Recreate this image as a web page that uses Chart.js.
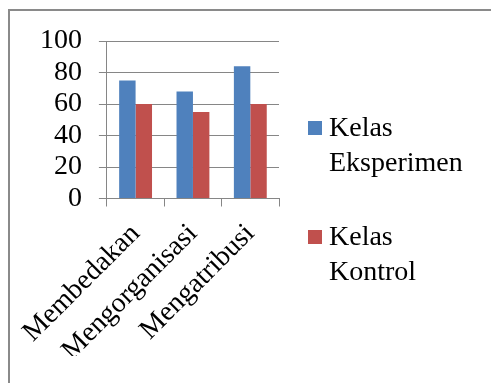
<!DOCTYPE html>
<html>
<head>
<meta charset="utf-8">
<script src="https://cdn.jsdelivr.net/npm/chart.js@4/dist/chart.umd.min.js"></script>
<style>
  html, body { margin: 0; padding: 0; background: #fff; overflow: hidden; }
  #wrap { position: relative; width: 491px; height: 383px; }
  #frame { position: absolute; left: 8px; top: 9px; width: 600px; height: 500px;
           border-top: 2px solid #8a8a8a; border-left: 2px solid #8a8a8a; }
  canvas { position: absolute; left: 0; top: 0; }
</style>
</head>
<body>
<div id="wrap">
  <div id="frame"></div>
  <canvas id="chart" width="491" height="383"></canvas>
</div>
<script>
// Skills measured
const categories = ['Membedakan', 'Mengorganisasi', 'Mengatribusi'];
// Mean scores per class
const kelasEksperimen = [75, 68, 84];
const kelasKontrol = [60, 55, 60];
// Y axis ticks
const yTicks = [0, 20, 40, 60, 80, 100];

const seriesNames = [['Kelas', 'Eksperimen'], ['Kelas', 'Kontrol']];
const FONT = '"Liberation Serif", "Times New Roman", serif';

// Legend with wrapped, multi-line labels placed right of the plot
const sideLegend = {
  id: 'sideLegend',
  afterDraw(chart) {
    const ctx = chart.ctx;
    const area = chart.chartArea;
    const x0 = area.right + 29;
    const starts = [area.top + 80, area.top + 189];
    ctx.save();
    ctx.font = '28px ' + FONT;
    ctx.textBaseline = 'alphabetic';
    ctx.textAlign = 'left';
    chart.data.datasets.forEach((ds, i) => {
      const y = starts[i];
      ctx.fillStyle = ds.backgroundColor;
      ctx.fillRect(x0, y, 14, 14);
      ctx.fillStyle = '#000';
      ds.label.forEach((line, j) => {
        ctx.fillText(line, x0 + 21, y + 15 + j * 35);
      });
    });
    ctx.restore();
  }
};

new Chart(document.getElementById('chart'), {
  type: 'bar',
  data: {
    labels: categories,
    datasets: [
      { label: seriesNames[0], data: kelasEksperimen, backgroundColor: '#4F81BD' },
      { label: seriesNames[1], data: kelasKontrol, backgroundColor: '#C0504D' }
    ]
  },
  options: {
    responsive: false,
    animation: false,
    devicePixelRatio: 1,
    layout: { padding: { left: 17, top: 41, right: 212, bottom: 27 } },
    datasets: { bar: { barPercentage: 1, categoryPercentage: 0.573 } },
    plugins: { legend: { display: false }, tooltip: { enabled: false } },
    scales: {
      x: {
        grid: { drawOnChartArea: false, drawTicks: true, tickLength: 8, color: '#868686' },
        border: { color: '#868686' },
        ticks: {
          color: '#000', font: { family: FONT, size: 28 },
          maxRotation: 45, minRotation: 45, padding: 11
        }
      },
      y: {
        min: 0, max: 100,
        afterBuildTicks(scale) { scale.ticks = yTicks.map(v => ({ value: v })); },
        grid: { color: '#868686', tickLength: 8 },
        border: { color: '#868686' },
        ticks: {
          color: '#000', font: { family: FONT, size: 28, lineHeight: 1 },
          padding: 17, autoSkip: false
        }
      }
    }
  },
  plugins: [sideLegend]
});
</script>
</body>
</html>
